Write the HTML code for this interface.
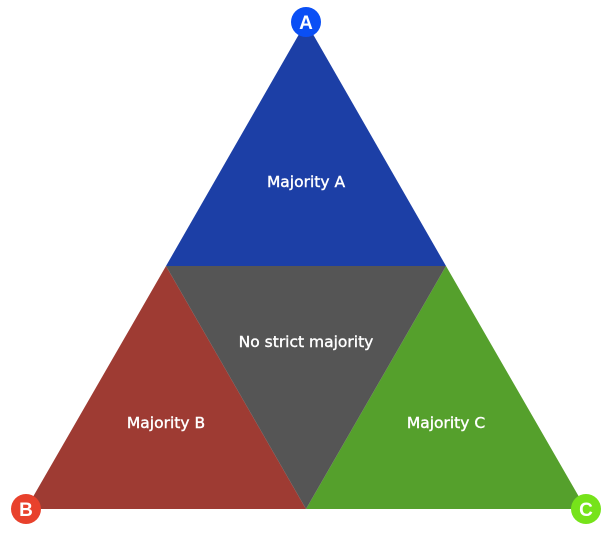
<!DOCTYPE html>
<html><head><style>body{margin:0;background:#fff}svg{display:block}</style></head><body>
<svg width="615" height="544" viewBox="0 0 615 544" xmlns="http://www.w3.org/2000/svg" font-family="DejaVu Sans, sans-serif">
<polygon points="306,22 446,266 166,266" fill="#1c3fa6"/>
<polygon points="166,266 306,509 26,509" fill="#9e3b33"/>
<polygon points="446,266 586,509 306,509" fill="#55a02c"/>
<polygon points="166,266 446,266 306,509" fill="#555555"/>
<g fill="#fff" font-size="15.5" text-anchor="middle" stroke="#fff" stroke-width="0.4">
<text x="306" y="187">Majority A</text>
<text x="306" y="347">No strict majority</text>
<text x="166" y="428">Majority B</text>
<text x="446" y="428">Majority C</text>
</g>
<circle cx="306" cy="22" r="15" fill="#0a4ff5"/>
<circle cx="26" cy="509" r="15" fill="#e8412c"/>
<circle cx="586" cy="509" r="15" fill="#76e31a"/>
<g fill="#fff" font-size="19" font-weight="bold" text-anchor="middle" font-family="Liberation Sans, sans-serif">
<text x="306" y="29">A</text>
<text x="26" y="516">B</text>
<text x="586" y="516">C</text>
</g>
</svg>
</body></html>
